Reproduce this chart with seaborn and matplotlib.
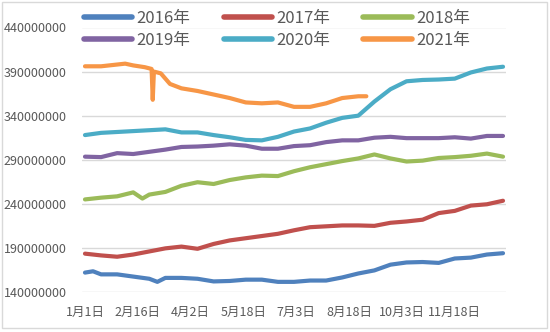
import numpy as np
import pandas as pd
import matplotlib
matplotlib.use("Agg")
import matplotlib.pyplot as plt
from matplotlib.patches import Rectangle
from matplotlib.ticker import FixedLocator, FuncFormatter
import seaborn as sns

# ---------------- data (values in millions, x = day of year, 0 = Jan 1) ----------------
grid = list(range(0, 365, 14))

days_2016 = [0, 7, 14, 28, 42, 56, 63, 70, 84, 98, 112, 126, 140, 154, 168, 182,
             196, 210, 224, 238, 252, 266, 280, 294, 308, 322, 336, 350, 364]
vals_2016 = [162, 163.5, 160, 160, 157.5, 155, 151.5, 156, 156, 155, 152, 152.5, 154, 154,
             151.5, 151.5, 153, 153, 156.5, 161, 164.5, 171, 173.5, 174, 173, 178, 179,
             182.5, 184]

days_2017 = grid
vals_2017 = [183.5, 181.5, 180, 182.5, 186, 189.5, 191.5, 189, 194.5, 198.5, 201, 203.5,
             206, 210, 213.5, 214.5, 215.5, 215.5, 215, 218.5, 220, 222, 229.5, 232, 238,
             239.5, 243.5]

days_2018 = [0, 14, 28, 42, 50] + grid[4:]
vals_2018 = [245, 247, 248.5, 253, 246, 250.5, 253.5, 260.5, 264.5, 262.5, 267, 270, 272,
             271.5, 277, 281.5, 285, 288.5, 291.5, 296, 291.5, 288, 289, 292, 293, 294.5,
             297, 293.5]

days_2019 = grid
vals_2019 = [293.5, 293, 297.5, 296.5, 299, 301.5, 304.5, 305, 306, 307.5, 306, 302.5,
             302.5, 305.5, 306.5, 310, 312, 312, 315, 316, 314.5, 314.5, 314.5, 315.5, 314,
             317, 317]

days_2020 = grid
vals_2020 = [318, 320.5, 321.5, 322.5, 323.5, 324.5, 321, 321, 318, 315.5, 312.5, 312, 316,
             322, 325.5, 332, 337.5, 340, 356, 370, 379, 380.5, 381, 382, 389, 393.5, 395.5]

days_2021 = [0, 14, 28, 35, 42, 52, 58, 59, 60, 66, 74, 84, 98, 112, 126, 140, 154, 168,
             182, 196, 210, 224, 238, 245]
vals_2021 = [396, 396, 398, 399, 397, 395, 393, 358, 390, 388, 376, 371, 368, 364, 360, 355,
             354, 355, 350, 350, 354, 360, 362, 362]

series_names = ["2016年", "2017年", "2018年", "2019年", "2020年", "2021年"]
series_days = [days_2016, days_2017, days_2018, days_2019, days_2020, days_2021]
series_vals = [vals_2016, vals_2017, vals_2018, vals_2019, vals_2020, vals_2021]
colors = ["#4F81BD", "#C0504D", "#9BBB59", "#8064A2", "#4BACC6", "#F79646"]

x_tick_days = [0, 46, 92, 138, 184, 230, 276, 322]
x_tick_labels = ["1月1日", "2月16日", "4月2日", "5月18日", "7月3日", "8月18日", "10月3日", "11月18日"]
y_ticks = [140000000, 190000000, 240000000, 290000000, 340000000, 390000000, 440000000]

# ---------------- build long table ----------------
frames = []
for name, d, v in zip(series_names, series_days, series_vals):
    frames.append(pd.DataFrame({"day": d, "value": np.array(v) * 1e6, "year": name}))
df = pd.concat(frames, ignore_index=True)

# ---------------- style ----------------
sns.set_style("white")
plt.rcParams["font.family"] = ["Noto Sans CJK SC", "DejaVu Sans"]

W, H = 550, 332
fig = plt.figure(figsize=(W / 100, H / 100), dpi=100)
ax_l, ax_r, ax_t, ax_b = 82, 506, 27.5, 292
ax = fig.add_axes([ax_l / W, 1 - ax_b / H, (ax_r - ax_l) / W, (ax_b - ax_t) / H])

sns.lineplot(data=df, x="day", y="value", hue="year", hue_order=series_names,
             palette=dict(zip(series_names, colors)), estimator=None, sort=False,
             linewidth=3, ax=ax, legend=False)
for ln in ax.get_lines():
    ln.set_solid_capstyle("round")
    ln.set_solid_joinstyle("round")

ax.set_xlim(-2.6, 366.6)
ax.set_ylim(140000000, 440000000)
ax.yaxis.set_major_locator(FixedLocator(y_ticks))
ax.yaxis.set_major_formatter(FuncFormatter(lambda v, p: f"{int(round(v))}"))
ax.set_xticks(x_tick_days)
ax.set_xticklabels(x_tick_labels)
ax.grid(axis="y", color="#D9D9D9", linewidth=1)
ax.grid(axis="x", visible=False)
ax.set_axisbelow(True)
for s in ax.spines.values():
    s.set_visible(False)
ax.tick_params(axis="both", length=0, labelsize=9, colors="#595959")
ax.tick_params(axis="y", pad=11)
ax.tick_params(axis="x", pad=10)
ax.set_xlabel("")
ax.set_ylabel("")

# legend: rows 2016/2017/2018 and 2019/2020/2021 (matplotlib fills column-wise)
lines = ax.get_lines()[:len(series_names)]
order = [0, 3, 1, 4, 2, 5]
leg = fig.legend([lines[i] for i in order], [series_names[i] for i in order],
                 loc="upper left", bbox_to_anchor=(84 / W, 1 - 10 / H), ncol=3,
                 frameon=False, fontsize=12, handlelength=2.9, handletextpad=0.25,
                 columnspacing=2.0, labelspacing=0.32, borderpad=0, borderaxespad=0)
for t in leg.get_texts():
    t.set_color("#595959")
for lh in leg.get_lines():
    lh.set_linewidth(4)
    lh.set_solid_capstyle("round")

fig.patches.append(Rectangle((2 / W, 1 - 328 / H), 545 / W, 326 / H,
                             transform=fig.transFigure, fill=False,
                             edgecolor="#D9D9D9", linewidth=1))

fig.savefig("out.png", dpi=100, facecolor="white")
